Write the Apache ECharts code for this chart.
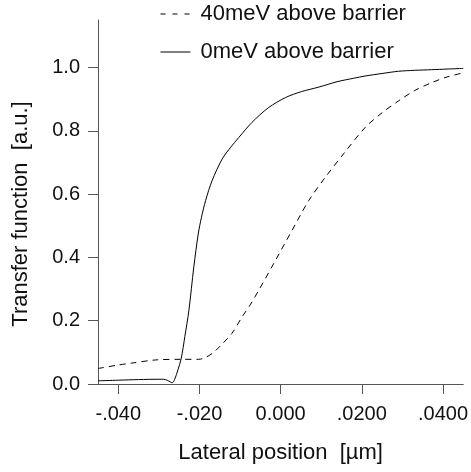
<!DOCTYPE html>
<html>
<head>
<meta charset="utf-8">
<script src="https://cdn.jsdelivr.net/npm/echarts@6/dist/echarts.min.js"></script>
<style>html,body{margin:0;padding:0;background:#fff}#c{width:471px;height:472px}</style>
</head>
<body>
<div id="c"></div>
<script>
const seriesNames = ['40meV above barrier', '0meV above barrier'];
const xTicks = [-0.04, -0.02, 0, 0.02, 0.04];
const xTickLabels = ['-.040', '-.020', '0.000', '.0200', '.0400'];
const yTicks = [0, 0.2, 0.4, 0.6, 0.8, 1.0];
const yTickLabels = ['0.0', '0.2', '0.4', '0.6', '0.8', '1.0'];

const dashedX = [-0.045, -0.040, -0.0367, -0.0308, -0.0244, -0.0202, -0.0185, -0.0165, -0.0145, -0.0120, -0.0095, -0.0075, -0.0054, -0.0013, 0.0028, 0.0069, 0.0110, 0.0155, 0.0208, 0.0250, 0.0290, 0.0330, 0.0372, 0.0410, 0.0450];
const dashedY = [0.049, 0.060, 0.066, 0.076, 0.078, 0.078, 0.084, 0.100, 0.125, 0.160, 0.212, 0.250, 0.296, 0.390, 0.485, 0.579, 0.653, 0.727, 0.810, 0.857, 0.894, 0.927, 0.952, 0.970, 0.983];

const solidX = [-0.045, -0.040, -0.035, -0.0300, -0.0288, -0.0278, -0.0267, -0.0261, -0.0253, -0.0245, -0.0236, -0.0226, -0.0214, -0.0203, -0.0195, -0.0185, -0.0169, -0.0144, -0.0123, -0.0103, -0.0071, -0.0030, 0.0012, 0.0052, 0.0094, 0.0139, 0.0180, 0.0208, 0.0250, 0.0290, 0.0330, 0.0372, 0.0410, 0.0450];
const solidY = [0.010, 0.012, 0.014, 0.015, 0.015, 0.011, 0.004, 0.015, 0.045, 0.080, 0.150, 0.233, 0.369, 0.474, 0.527, 0.579, 0.642, 0.711, 0.748, 0.779, 0.826, 0.873, 0.905, 0.924, 0.938, 0.955, 0.966, 0.973, 0.981, 0.988, 0.991, 0.993, 0.995, 0.997];

const zip = (xs, ys) => xs.map((x, i) => [x, ys[i]]);
const axisGray = '#555';
const font = 'Liberation Sans, Arial, sans-serif';
const fs = 20;
const fsBig = 22;

const chart = echarts.init(document.getElementById('c'), null, {renderer: 'canvas'});
chart.setOption({
  animation: false,
  backgroundColor: '#fff',
  grid: {left: 98, right: 6, top: 20, bottom: 88, containLabel: false},
  legend: {
    orient: 'vertical', left: 160, top: 3, padding: 0, itemWidth: 30, itemHeight: 14, itemGap: 16,
    itemStyle: {opacity: 0},
    textStyle: {fontFamily: font, fontSize: fsBig, color: '#111', padding: [0, 0, 0, 5]},
    data: [
      {name: seriesNames[0], lineStyle: {width: 1, type: [5, 7], color: '#000'}},
      {name: seriesNames[1], lineStyle: {width: 1, type: 'solid', color: '#000'}}
    ]
  },
  xAxis: {
    type: 'value', min: -0.045, max: 0.045,
    name: 'Lateral position  [µm]', nameLocation: 'middle', nameGap: 58,
    nameTextStyle: {fontFamily: font, fontSize: fsBig, color: '#111'},
    axisLine: {show: true, onZero: false, lineStyle: {color: axisGray, width: 1}},
    axisTick: {show: true, inside: false, length: 10, customValues: xTicks, lineStyle: {color: axisGray}},
    axisLabel: {customValues: xTicks, margin: 20, fontFamily: font, fontSize: fs, color: '#111',
      formatter: v => { const i = xTicks.findIndex(t => Math.abs(t - v) < 1e-9); return i >= 0 ? xTickLabels[i] : ''; }},
    splitLine: {show: false}
  },
  yAxis: {
    type: 'value', min: 0, max: 1.15,
    name: 'Transfer function  [a.u.]', nameLocation: 'middle', nameGap: 66,
    nameTextStyle: {fontFamily: font, fontSize: fsBig, color: '#111', padding: [0, 24, 0, 0]},
    axisLine: {show: true, onZero: false, lineStyle: {color: axisGray, width: 1}},
    axisTick: {show: true, inside: false, length: 10, customValues: yTicks, lineStyle: {color: axisGray}},
    axisLabel: {customValues: yTicks, margin: 18, fontFamily: font, fontSize: fs, color: '#111',
      formatter: v => { const i = yTicks.findIndex(t => Math.abs(t - v) < 1e-9); return i >= 0 ? yTickLabels[i] : ''; }},
    splitLine: {show: false}
  },
  series: [
    {name: seriesNames[0], type: 'line', data: zip(dashedX, dashedY), symbol: 'none', smooth: 0.3,
      lineStyle: {color: '#000', width: 1, type: [6, 5]}, itemStyle: {color: '#000'}},
    {name: seriesNames[1], type: 'line', data: zip(solidX, solidY), symbol: 'none', smooth: 0.3,
      lineStyle: {color: '#000', width: 1, type: 'solid'}, itemStyle: {color: '#000'}}
  ]
});
</script>
</body>
</html>
